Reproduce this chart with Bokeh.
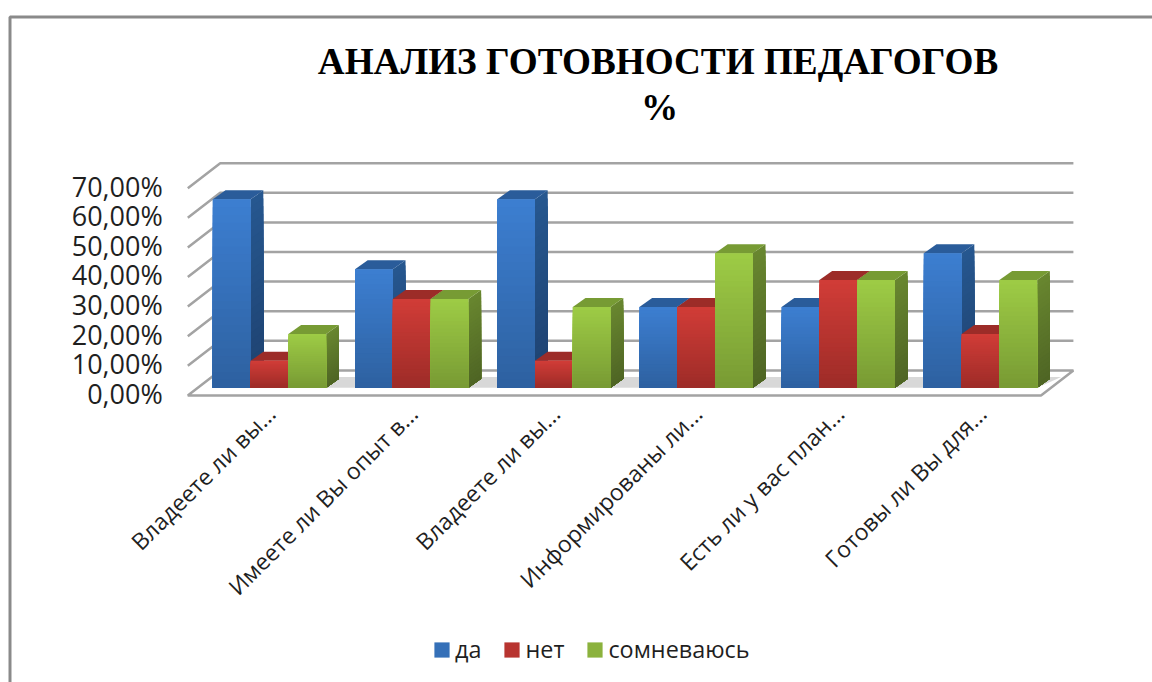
import math
import numpy as np
from bokeh.embed import file_html
from bokeh.resources import INLINE
from bokeh.plotting import figure
from bokeh.core.properties import value
from bokeh.models import Range1d, FixedTicker, Legend, LegendItem

# ---- data ----
categories = ["Владеете ли вы...", "Имеете ли Вы опыт в...", "Владеете ли вы...",
              "Информированы ли...", "Есть ли у вас план...", "Готовы ли Вы для..."]
da = [63.64, 40.0, 63.64, 27.27, 27.27, 45.45]
net = [9.09, 30.0, 9.09, 27.27, 36.36, 18.18]
somn = [18.18, 30.0, 27.27, 45.45, 36.36, 36.36]
series_names = ["да", "нет", "сомневаюсь"]
y_ticks = [0, 10, 20, 30, 40, 50, 60, 70]
y_tick_labels = ["0,00%", "10,00%", "20,00%", "30,00%", "40,00%", "50,00%", "60,00%", "70,00%"]
title_lines = ["АНАЛИЗ ГОТОВНОСТИ ПЕДАГОГОВ", "%"]

# ---- style / geometry ----
W, H = 1152, 682
PX_X, PX_Y = 142.2, 2.96
x0_px, y0_px = 187.3, 394.9                    # px of front corner of the floor
WALL_DX, WALL_DY = 32.4 / PX_X, 25.0 / PX_Y    # wall depth
BAR_DX, BAR_DY = 12.7 / PX_X, 9.0 / PX_Y       # bar depth
BASE = 7.7 / PX_Y
BAR_W = 37.8 / PX_X
BAR_X0 = 25.0 / PX_X
LABEL_SHIFT = 0.7
FONT = "Open Sans"
GRID = "#A3A3A3"
styles = [
    dict(front=("#3C7ED0", "#2D609F"), side=("#26578F", "#1E416F"), top="#2A5C9A", mid="#3570B8"),
    dict(front=("#D03C37", "#9C2B27"), side=("#9C2C28", "#7A221F"), top="#9C2C28", mid="#B83430"),
    dict(front=("#9DCB45", "#779933"), side=("#68862F", "#4E6424"), top="#779B34", mid="#8BB23D"),
]
LEVELS = 24


def hex2rgb(c):
    return np.array([int(c[i:i + 2], 16) for i in (1, 3, 5)], dtype=float)


def mix(a, b, t):
    r = hex2rgb(a) * (1 - t) + hex2rgb(b) * t
    return "#%02x%02x%02x" % tuple(int(round(v)) for v in r)


def X(px):
    return (px - x0_px) / PX_X


def Y(px):
    return (y0_px - px) / PX_Y


p = figure(width=W, height=H, output_backend="svg", toolbar_location=None,
           x_range=Range1d(X(0), X(W)), y_range=Range1d(Y(H), Y(0)),
           min_border_left=0, min_border_right=0, min_border_top=0, min_border_bottom=0,
           background_fill_color="white", border_fill_color="white", outline_line_color=None)
p.grid.visible = False

# axes, fixed on the front edges of the floor
label_pos = [t + LABEL_SHIFT for t in y_ticks]
p.yaxis.fixed_location = 0
p.yaxis.ticker = FixedTicker(ticks=label_pos)
p.yaxis.major_label_overrides = dict(zip(label_pos, y_tick_labels))
p.yaxis.axis_line_color = None
p.yaxis.major_tick_line_color = None
p.yaxis.minor_tick_line_color = None
p.yaxis.major_label_text_font = FONT
p.yaxis.major_label_text_font_size = "27px"
p.yaxis.major_label_text_color = "#1F1F1F"
p.yaxis.major_label_standoff = 19

tick_pos = [i + 0.585 for i in range(len(categories))]
p.xaxis.fixed_location = 0
p.xaxis.ticker = FixedTicker(ticks=tick_pos)
p.xaxis.major_label_overrides = dict(zip(tick_pos, categories))
p.xaxis.major_label_orientation = math.radians(45)
p.xaxis.axis_line_color = None
p.xaxis.major_tick_line_color = None
p.xaxis.minor_tick_line_color = None
p.xaxis.major_label_text_font = FONT
p.xaxis.major_label_text_font_size = "23px"
p.xaxis.major_label_text_color = "#1F1F1F"
p.xaxis.major_label_standoff = 8

# outer frame of the chart
p.line([X(9.5), X(9.5), X(W + 5)], [Y(H + 5), Y(16.5), Y(16.5)], line_color="#8A8A8A", line_width=3)

# walls / floor
n = len(categories)
p.patch([0, WALL_DX, n + WALL_DX, n], [0, WALL_DY, WALL_DY, 0], fill_color="white",
        line_color=GRID, line_width=2.5)
for t in y_ticks[1:]:
    p.line([0, WALL_DX, n + WALL_DX], [t, t + WALL_DY, t + WALL_DY], line_color=GRID, line_width=2.5)

# floor shadow behind bars
shadow_right = BAR_X0 + (n - 1) + 3 * BAR_W
p.patch([BAR_X0, shadow_right, shadow_right + 24.0 / PX_X, BAR_X0],
        [BASE, BASE, BASE + 3.6, BASE + 3.6], fill_color="#D8D8D8", line_color=None)

# bars
legend_items = []
for s, (vals, st, name) in enumerate(zip([da, net, somn], styles, series_names)):
    lefts = np.arange(n) + BAR_X0 + s * BAR_W
    rights = lefts + BAR_W
    tops = np.array(vals, dtype=float) + BASE
    xs_side, ys_side, col_side = [], [], []
    for lv in range(LEVELS, 0, -1):
        f = lv / LEVELS
        c = mix(st["side"][1], st["side"][0], f)
        for r, t in zip(rights, tops):
            h = BASE + (t - BASE) * f
            xs_side.append([r, r + BAR_DX, r + BAR_DX, r])
            ys_side.append([BASE, BASE + BAR_DY, h + BAR_DY, h])
            col_side.append(c)
    p.patches(xs_side, ys_side, fill_color=col_side, line_color=None)
    p.patches([[l, l + BAR_DX, r + BAR_DX, r] for l, r in zip(lefts, rights)],
              [[t, t + BAR_DY, t + BAR_DY, t] for t in tops],
              fill_color=st["top"], line_color=None)
    main = p.vbar(x=(lefts + rights) / 2, width=BAR_W, top=tops, bottom=BASE,
                  fill_color=st["mid"], line_color=None)
    q_l, q_r, q_t, q_c = [], [], [], []
    for lv in range(LEVELS, 0, -1):
        f = lv / LEVELS
        c = mix(st["front"][1], st["front"][0], f)
        for l, r, t in zip(lefts, rights, tops):
            q_l.append(l); q_r.append(r); q_t.append(BASE + (t - BASE) * f); q_c.append(c)
    p.quad(left=q_l, right=q_r, top=q_t, bottom=BASE, fill_color=q_c, line_color=None)
    legend_items.append(LegendItem(label=name, renderers=[main]))

legend = Legend(items=legend_items, orientation="horizontal", location=(432, 17),
                glyph_width=19, glyph_height=19, label_standoff=4, spacing=21, padding=0, margin=0,
                border_line_color=None, background_fill_alpha=0,
                label_text_font=FONT, label_text_font_size="23.4px", label_text_color="#1F1F1F")
p.add_layout(legend, "center")

# title
p.text(x=[X(657.5), X(659)], y=[Y(60.5), Y(107)], text=title_lines,
       text_align="center", text_baseline="middle",
       text_font=value("Liberation Serif"), text_font_style="bold",
       text_font_size="37.2px", text_color="black")

open("out.html", "w").write(file_html(p, INLINE))
